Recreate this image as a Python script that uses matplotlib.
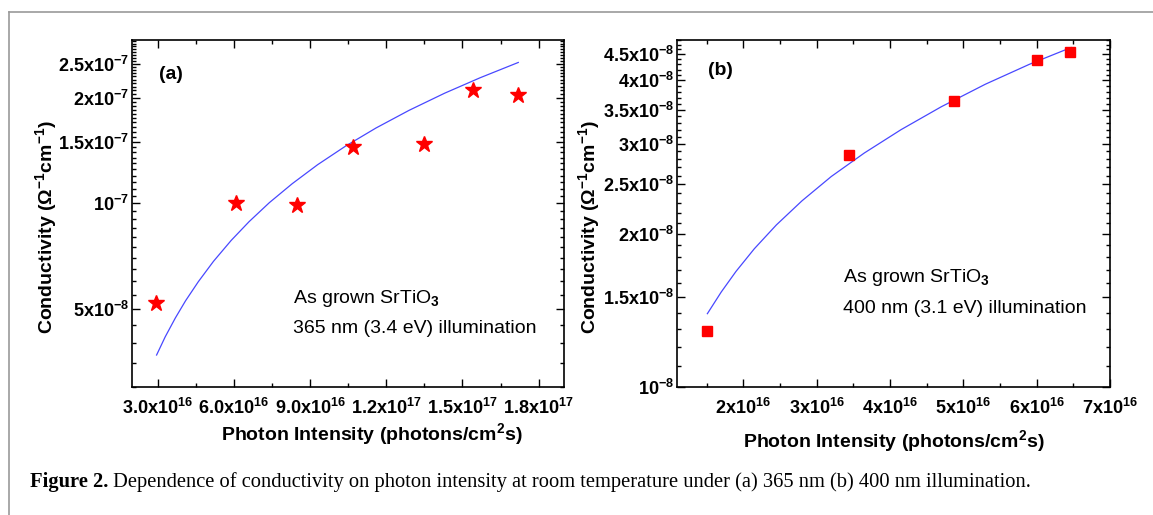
import numpy as np
import matplotlib
matplotlib.use("Agg")
import matplotlib.pyplot as plt
from matplotlib.ticker import FixedLocator, FixedFormatter, MultipleLocator
from matplotlib.lines import Line2D

W, H = 1153, 515

# (a) 365 nm illumination
A_X = [2.94e16, 6.08e16, 8.48e16, 1.069e17, 1.348e17, 1.54e17, 1.719e17]
A_Y = [5.2e-8, 1.0e-7, 0.99e-7, 1.45e-7, 1.48e-7, 2.11e-7, 2.04e-7]
# fitted curve
A_FIT_X = [2.96e16, 3.3e16, 3.7e16, 4.1e16, 4.6e16, 5.2e16, 5.9e16, 6.6e16,
           7.4e16, 8.3e16, 9.3e16, 1.04e17, 1.16e17, 1.29e17, 1.43e17,
           1.57e17, 1.72e17]
A_FIT_Y = [3.70e-8, 4.17e-8, 4.72e-8, 5.28e-8, 5.98e-8, 6.84e-8, 7.85e-8,
           8.87e-8, 1.005e-7, 1.138e-7, 1.289e-7, 1.456e-7, 1.64e-7,
           1.841e-7, 2.06e-7, 2.28e-7, 2.52e-7]
A_XTICKS = [3e16, 6e16, 9e16, 1.2e17, 1.5e17, 1.8e17]
A_XLABELS = ["3.0x10$^{16}$", "6.0x10$^{16}$", "9.0x10$^{16}$",
             "1.2x10$^{17}$", "1.5x10$^{17}$", "1.8x10$^{17}$"]
A_YTICKS = [5e-8, 1e-7, 1.5e-7, 2e-7, 2.5e-7]
A_YLABELS = ["5x10$^{-8}$", "10$^{-7}$", "1.5x10$^{-7}$", "2x10$^{-7}$",
             "2.5x10$^{-7}$"]

# (b) 400 nm illumination
B_X = [1.5e16, 3.44e16, 4.87e16, 6.0e16, 6.46e16]
B_Y = [1.29e-8, 2.86e-8, 3.65e-8, 4.38e-8, 4.54e-8]
B_FIT_X = [1.51e16, 1.7e16, 1.9e16, 2.15e16, 2.45e16, 2.8e16, 3.2e16,
           3.65e16, 4.15e16, 4.7e16, 5.3e16, 5.9e16, 6.47e16]
B_FIT_Y = [1.393e-8, 1.537e-8, 1.686e-8, 1.868e-8, 2.08e-8, 2.32e-8,
           2.59e-8, 2.88e-8, 3.2e-8, 3.55e-8, 3.93e-8, 4.3e-8, 4.64e-8]
B_XTICKS = [2e16, 3e16, 4e16, 5e16, 6e16, 7e16]
B_XLABELS = ["2x10$^{16}$", "3x10$^{16}$", "4x10$^{16}$", "5x10$^{16}$",
             "6x10$^{16}$", "7x10$^{16}$"]
B_YTICKS = [1e-8, 1.5e-8, 2e-8, 2.5e-8, 3e-8, 3.5e-8, 4e-8, 4.5e-8]
B_YLABELS = ["10$^{-8}$", "1.5x10$^{-8}$", "2x10$^{-8}$", "2.5x10$^{-8}$",
             "3x10$^{-8}$", "3.5x10$^{-8}$", "4x10$^{-8}$", "4.5x10$^{-8}$"]

YLABEL = "Conductivity (Ω$^{-1}$cm$^{-1}$)"
XLABEL = "Photon Intensity (photons/cm$^{2}$s)"
CAPTION_HEAD = "Figure 2."
CAPTION = (" Dependence of conductivity on photon intensity at room temperature "
           "under (a) 365 nm (b) 400 nm illumination.")

plt.rcParams["font.family"] = ["Liberation Sans", "DejaVu Sans"]
plt.rcParams["font.weight"] = "bold"
plt.rcParams["mathtext.fontset"] = "custom"
plt.rcParams["mathtext.rm"] = "Liberation Sans"
plt.rcParams["mathtext.bf"] = "Liberation Sans:bold"
plt.rcParams["mathtext.default"] = "bf"


def px(x0, y0, x1, y1):
    # pixel box (top-left origin) -> figure fraction rect
    return [x0 / W, 1 - y1 / H, (x1 - x0) / W, (y1 - y0) / H]


def style(ax, xt, xl, yt, yl, xminor, yminor):
    ax.set_yscale("log")
    ax.xaxis.set_major_locator(FixedLocator(xt))
    ax.xaxis.set_major_formatter(FixedFormatter(xl))
    ax.xaxis.set_minor_locator(MultipleLocator(xminor))
    ax.yaxis.set_major_locator(FixedLocator(yt))
    ax.yaxis.set_major_formatter(FixedFormatter(yl))
    ax.yaxis.set_minor_locator(MultipleLocator(yminor))
    ax.yaxis.set_minor_formatter(FixedFormatter([]))
    ax.tick_params(which="both", direction="in", top=True, right=True,
                   width=1.0, labelsize=13)
    ax.tick_params(which="major", length=6)
    ax.tick_params(which="minor", length=3)
    ax.tick_params(axis="y", pad=2)
    ax.tick_params(axis="x", pad=8)
    for sp in ax.spines.values():
        sp.set_linewidth(1.2)


fig = plt.figure(figsize=(W / 100, H / 100), dpi=100)

ax1 = fig.add_axes(px(131.7, 40, 564, 387))
ax1.plot(A_FIT_X, A_FIT_Y, color="#4848ff", lw=0.9)
ax1.plot(A_X, A_Y, ls="none", marker="*", ms=12, color="red", mec="red")
style(ax1, A_XTICKS, A_XLABELS, A_YTICKS, A_YLABELS, 1.5e16, 5e-9)
ax1.set_xlim(1.98e16, 1.9e17)
ax1.set_ylim(3.0e-8, 2.92e-7)
ax1.set_ylabel(YLABEL, fontsize=14, fontweight="bold")
ax1.set_xlabel(XLABEL, fontsize=14, fontweight="bold")
ax1.yaxis.set_label_coords(-0.168, 0.46)
ax1.xaxis.set_label_coords(0.555, -0.098)
ax1.text(0.064, 0.90, "(a)", transform=ax1.transAxes, fontsize=14,
         va="center")
ax1.text(0.372, 0.254, "As grown SrTiO$\\mathrm{_3}$", transform=ax1.transAxes,
         fontsize=14, fontweight="normal", va="center")
ax1.text(0.372, 0.168, "365 nm (3.4 eV) illumination", transform=ax1.transAxes,
         fontsize=14, fontweight="normal", va="center")

ax2 = fig.add_axes(px(677.3, 40, 1110, 387))
ax2.plot(B_FIT_X, B_FIT_Y, color="#4848ff", lw=0.9)
ax2.plot(B_X, B_Y, ls="none", marker="s", ms=7.5, color="red", mec="red")
style(ax2, B_XTICKS, B_XLABELS, B_YTICKS, B_YLABELS, 0.5e16, 1e-9)
ax2.set_xlim(1.1e16, 7e16)
ax2.set_ylim(1.0e-8, 4.8e-8)
ax2.set_ylabel(YLABEL, fontsize=14, fontweight="bold")
ax2.set_xlabel(XLABEL, fontsize=14, fontweight="bold")
ax2.yaxis.set_label_coords(-0.174, 0.46)
ax2.xaxis.set_label_coords(0.5, -0.118)
ax2.text(0.071, 0.913, "(b)", transform=ax2.transAxes, fontsize=14,
         va="center")
ax2.text(0.384, 0.315, "As grown SrTiO$\\mathrm{_3}$", transform=ax2.transAxes,
         fontsize=14, fontweight="normal", va="center")
ax2.text(0.384, 0.227, "400 nm (3.1 eV) illumination", transform=ax2.transAxes,
         fontsize=14, fontweight="normal", va="center")

# grey page frame (top and left edges)
fig.add_artist(Line2D([9 / W, 1], [1 - 12 / H] * 2, transform=fig.transFigure,
                      color="#9a9a9a", lw=1.2))
fig.add_artist(Line2D([9 / W] * 2, [0, 1 - 12 / H], transform=fig.transFigure,
                      color="#9a9a9a", lw=1.2))

# caption: bold head + regular text
cap_y = 1 - 482 / H
head = fig.text(30 / W, cap_y, CAPTION_HEAD, family="Liberation Serif",
                fontsize=14.8, fontweight="bold", va="center")
fig.canvas.draw()
bb = head.get_window_extent()
fig.text(bb.x1 / W, cap_y, CAPTION, family="Liberation Serif", fontsize=14.8,
         fontweight="normal", va="center")

fig.savefig("out.png", dpi=100)
